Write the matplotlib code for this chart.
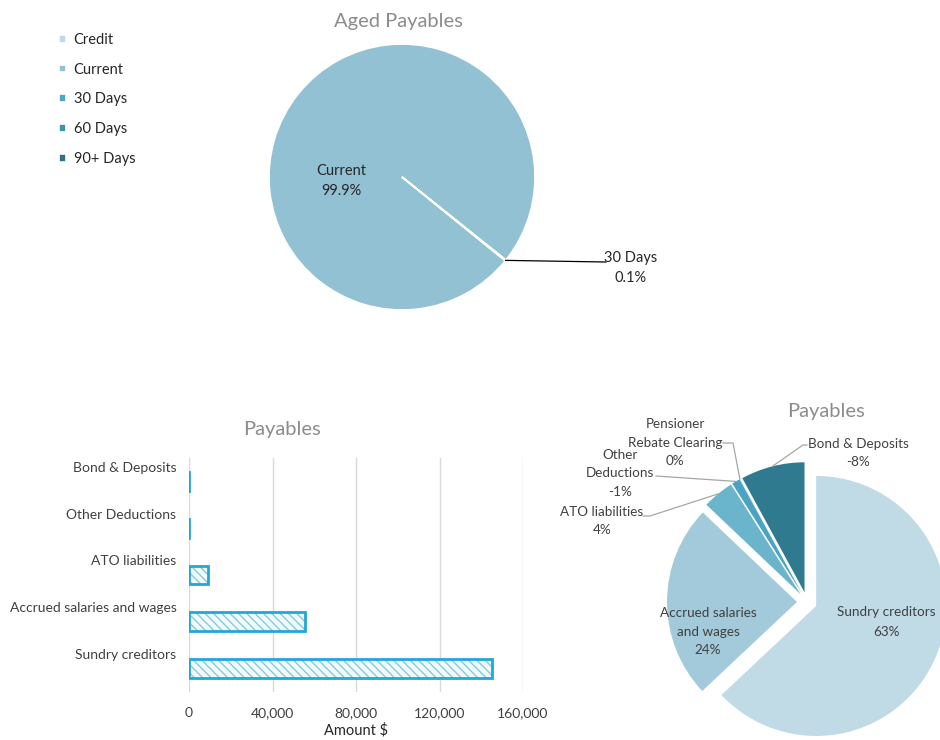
import numpy as np
import matplotlib.pyplot as plt
from matplotlib.lines import Line2D

plt.rcParams['font.family'] = ['Lato', 'DejaVu Sans']

# aged payables, share of total (%)
aged_labels = ["Credit", "Current", "30 Days", "60 Days", "90+ Days"]
aged_values = [0.0, 99.9, 0.1, 0.0, 0.0]
aged_colors = ["#bcdbe9", "#93c1d4", "#4aa8c8", "#3b96ad", "#2f7186"]

# payables by account ($)
pay_labels = ["Sundry creditors", "Accrued salaries and wages", "ATO liabilities",
              "Other Deductions", "Pensioner Rebate Clearing", "Bond & Deposits"]
pay_values = [145100, 55500, 9000, -2400, 40, -18300]
pie_colors = ["#c0dbe6", "#a2cada", "#6ab5cc", "#4aa3c2", "#3d93ad", "#2f7a8f"]

# the bar chart leaves out the pensioner rebate account
bar_idx = [0, 1, 2, 3, 5]
bar_labels = [pay_labels[i] for i in bar_idx]
bar_values = [pay_values[i] for i in bar_idx]

W, H = 940, 740
fig = plt.figure(figsize=(9.4, 7.4), dpi=100)
GREY_TITLE = "#8c8c8c"
TXT = "#404040"


def fpx(x, y):
    # pixel position (from top-left) to figure fraction
    return x / W, 1 - y / H


def px_axes(cx, cy, half):
    l, b = fpx(cx - half, cy + half)
    return fig.add_axes([l, b, 2 * half / W, 2 * half / H])


def to_fig(ax, pt):
    disp = ax.transData.transform(pt)
    return fig.transFigure.inverted().transform(disp)


def wedge_edge(w, frac=1.0):
    mid = np.deg2rad((w.theta1 + w.theta2) / 2)
    cx, cy = w.center
    return cx + frac * w.r * np.cos(mid), cy + frac * w.r * np.sin(mid)


def label_lines(x, y0, lines, pitch=18.7, **kw):
    # one text per line, so stacked labels keep tight boxes
    for k, s in enumerate(lines):
        fig.text(*fpx(x, y0 + k * pitch), s, ha="center", va="center", **kw)


# ---- Aged Payables pie ----
r1 = 133
ax1 = px_axes(402, 177, 150)
wedges1, _ = ax1.pie(aged_values, colors=aged_colors, startangle=-39, counterclock=False,
                     wedgeprops=dict(edgecolor="white", linewidth=1.2))
ax1.set_xlim(-150 / r1, 150 / r1)
ax1.set_ylim(-150 / r1, 150 / r1)
ax1.set_aspect("equal")
ax1.axis("off")
fig.text(*fpx(398, 21), "Aged Payables", ha="center", va="center", fontsize=14.5, color=GREY_TITLE)

top_kw = dict(fontsize=10.5, color="#262626")
label_lines(341, 171, [aged_labels[1], f"{aged_values[1]:.1f}%"], pitch=20, **top_kw)
p = to_fig(ax1, wedge_edge(wedges1[2]))
fig.add_artist(Line2D([p[0], fpx(606, 262)[0]], [p[1], fpx(606, 262)[1]],
                      transform=fig.transFigure, color="black", lw=0.9))
label_lines(631, 258, [aged_labels[2], f"{aged_values[2]:.1f}%"], pitch=20, **top_kw)

fig.legend(wedges1, aged_labels, loc="upper left", bbox_to_anchor=fpx(59, 33), frameon=False,
           fontsize=10.5, handlelength=0.45, handleheight=0.45, handletextpad=0.55,
           labelspacing=1.08, borderaxespad=0, borderpad=0, labelcolor="#262626")

# ---- Payables bar chart ----
l, b = fpx(189, 692)
axb = fig.add_axes([l, b, (523 - 189) / W, (692 - 458) / H])
y = np.arange(len(bar_labels))
axb.barh(y, bar_values, height=0.4, color="#f4fbfd", edgecolor="#7fcce6", hatch="\\\\\\\\", linewidth=0)
axb.barh(y, bar_values, height=0.4, color="none", edgecolor="#22a7d6", linewidth=2)
axb.set_xlim(0, 160000)
axb.set_ylim(-0.5, len(bar_labels) - 0.5)
axb.set_xticks([0, 40000, 80000, 120000, 160000])
axb.set_xticklabels([f"{v:,}" for v in [0, 40000, 80000, 120000, 160000]])
axb.set_yticks(y + 0.31)
axb.set_yticklabels(bar_labels)
axb.tick_params(length=0, labelsize=10, labelcolor=TXT)
axb.tick_params(axis="y", pad=9)
axb.tick_params(axis="x", pad=11)
axb.grid(axis="x", color="#d9d9d9", lw=1)
axb.set_axisbelow(True)
for s in axb.spines.values():
    s.set_visible(False)
axb.set_xlabel("Amount $", fontsize=10.5, color="#262626", labelpad=3)
fig.text(*fpx(282, 430), "Payables", ha="center", va="center", fontsize=14.5, color=GREY_TITLE)

# ---- Payables pie ----
r2 = 130
ax2 = px_axes(807, 602, 170)
wedges2, _ = ax2.pie(np.abs(pay_values), colors=pie_colors, startangle=90, counterclock=False,
                     explode=[10 / r2] * len(pay_values), wedgeprops=dict(linewidth=0))
ax2.set_xlim(-170 / r2, 170 / r2)
ax2.set_ylim(-170 / r2, 170 / r2)
ax2.set_aspect("equal")
ax2.axis("off")
fig.text(*fpx(826, 412), "Payables", ha="center", va="center", fontsize=14.5, color=GREY_TITLE)

pct = [round(100 * v / np.sum(np.abs(pay_values))) for v in pay_values]
LEAD = "#a6a6a6"
lab_kw = dict(fontsize=9.7, color=TXT)
label_lines(886, 612, ["Sundry creditors", f"{pct[0]}%"], pitch=19.5, **lab_kw)
label_lines(708, 613, ["Accrued salaries", "and wages", f"{pct[1]}%"], pitch=18.5, **lab_kw)
label_lines(602, 512, ["ATO liabilities", f"{pct[2]}%"], pitch=18.5, **lab_kw)
label_lines(620, 455, ["Other", "Deductions", f"{pct[3]}%"], pitch=18.5, **lab_kw)
label_lines(675, 424, ["Pensioner", "Rebate Clearing", f"{pct[4]}%"], pitch=18.5, **lab_kw)
label_lines(858, 444, ["Bond & Deposits", f"{pct[5]}%"], pitch=18.5, **lab_kw)

leaders = {2: [(643, 516), (650, 516)], 3: [(656, 476)], 4: [(723, 443), (733, 443)],
           5: [(807, 445), (803, 445)]}
for i, pts in leaders.items():
    end = to_fig(ax2, wedge_edge(wedges2[i]))
    xs = [fpx(*q)[0] for q in pts] + [end[0]]
    ys = [fpx(*q)[1] for q in pts] + [end[1]]
    fig.add_artist(Line2D(xs, ys, transform=fig.transFigure, color=LEAD, lw=0.9))

fig.savefig("out.png", dpi=100)
